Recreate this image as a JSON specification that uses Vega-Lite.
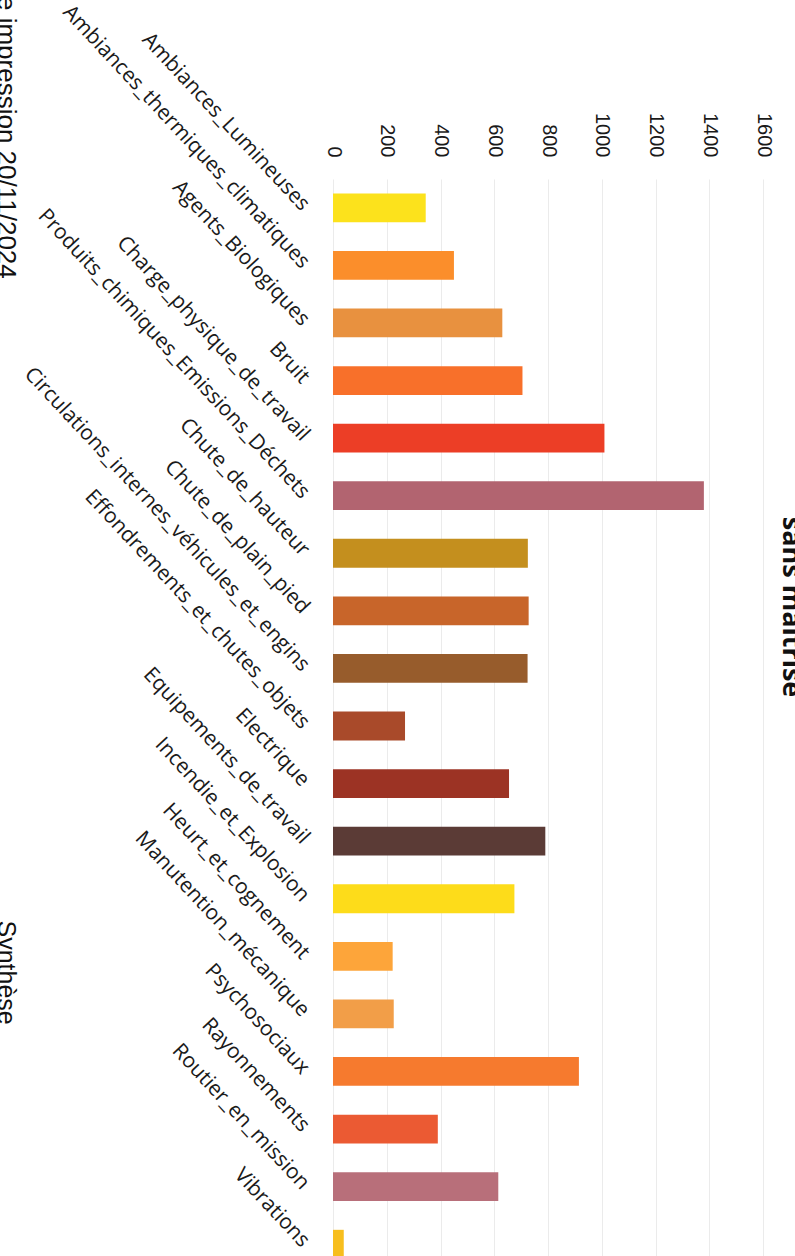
{
  "$schema": "https://vega.github.io/schema/vega-lite/v6.json",
  "autosize": {"type": "none"},
  "padding": {"left": 333, "top": 179, "right": 32, "bottom": 0},
  "width": 430,
  "height": 1094,
  "background": "white",
  "title": {
    "text": "sans maîtrise",
    "orient": "right",
    "anchor": "middle",
    "frame": "group",
    "font": "Open Sans",
    "fontSize": 27,
    "fontWeight": "bold",
    "color": "#111111",
    "offset": 4,
    "dx": -119
  },
  "data": {
    "values": [
      {"risque": "Ambiances_Lumineuses", "nombre": 345},
      {"risque": "Ambiances_thermiques_climatiques", "nombre": 450},
      {"risque": "Agents_Biologiques", "nombre": 630},
      {"risque": "Bruit", "nombre": 705},
      {"risque": "Charge_physique_de_travail", "nombre": 1010},
      {"risque": "Produits_chimiques_Emissions_Déchets", "nombre": 1380},
      {"risque": "Chute_de_hauteur", "nombre": 725},
      {"risque": "Chute_de_plain_pied", "nombre": 728},
      {"risque": "Circulations_internes_véhicules_et_engins", "nombre": 724},
      {"risque": "Effondrements_et_chutes_objets", "nombre": 268},
      {"risque": "Electrique", "nombre": 655},
      {"risque": "Equipements_de_travail", "nombre": 790},
      {"risque": "Incendie_et_Explosion", "nombre": 675},
      {"risque": "Heurt_et_cognement", "nombre": 222},
      {"risque": "Manutention_mécanique", "nombre": 226},
      {"risque": "Psychosociaux", "nombre": 915},
      {"risque": "Rayonnements", "nombre": 390},
      {"risque": "Routier_en_mission", "nombre": 615},
      {"risque": "Vibrations", "nombre": 40}
    ]
  },
  "mark": {"type": "bar"},
  "encoding": {
    "y": {
      "field": "risque",
      "type": "nominal",
      "sort": null,
      "scale": {"paddingInner": 0.5, "paddingOuter": 0.25},
      "axis": {
        "orient": "left",
        "domain": false,
        "ticks": false,
        "grid": false,
        "labelAngle": 47,
        "labelAlign": "right",
        "labelBaseline": "middle",
        "labelPadding": 28,
        "labelFont": "Open Sans",
        "labelFontSize": 21,
        "labelColor": "#1a1a1a",
        "labelLimit": 0,
        "labelOverlap": false,
        "title": "Date impression 20/11/2024",
        "titleAngle": 90,
        "titleX": -336,
        "titleY": -224,
        "titleAlign": "left",
        "titleBaseline": "alphabetic",
        "titleFont": "Liberation Sans",
        "titleFontSize": 26,
        "titleFontWeight": "normal",
        "titleColor": "#111111"
      }
    },
    "x": {
      "field": "nombre",
      "type": "quantitative",
      "scale": {"domain": [0, 1600], "nice": false},
      "axis": {
        "orient": "top",
        "values": [0, 200, 400, 600, 800, 1000, 1200, 1400, 1600],
        "format": "d",
        "domain": false,
        "ticks": false,
        "grid": true,
        "gridColor": "#ebebeb",
        "gridWidth": 1,
        "labelAngle": 90,
        "labelAlign": "right",
        "labelBaseline": "middle",
        "labelPadding": 22,
        "labelFont": "Liberation Sans",
        "labelFontSize": 20,
        "labelColor": "#1a1a1a",
        "labelFlush": false,
        "labelOverlap": false,
        "title": "Synthèse",
        "titleAngle": 90,
        "titleX": -336,
        "titleY": 741,
        "titleAlign": "left",
        "titleBaseline": "alphabetic",
        "titleFont": "Liberation Sans",
        "titleFontSize": 25,
        "titleFontWeight": "normal",
        "titleColor": "#111111"
      }
    },
    "color": {
      "field": "risque",
      "type": "nominal",
      "legend": null,
      "scale": {
        "domain": ["Ambiances_Lumineuses", "Ambiances_thermiques_climatiques", "Agents_Biologiques", "Bruit", "Charge_physique_de_travail", "Produits_chimiques_Emissions_Déchets", "Chute_de_hauteur", "Chute_de_plain_pied", "Circulations_internes_véhicules_et_engins", "Effondrements_et_chutes_objets", "Electrique", "Equipements_de_travail", "Incendie_et_Explosion", "Heurt_et_cognement", "Manutention_mécanique", "Psychosociaux", "Rayonnements", "Routier_en_mission", "Vibrations"],
        "range": ["#FCE21C", "#FB8E2B", "#E8913F", "#F8702A", "#EC3E26", "#B26470", "#C48F1E", "#C8652A", "#975C2C", "#A94A2A", "#9C3324", "#5B3B36", "#FDDC1A", "#FDA53A", "#F29E48", "#F67A2E", "#EB5A33", "#B86F7A", "#F7BE1E"]
      }
    }
  },
  "config": {"view": {"stroke": null}}
}
